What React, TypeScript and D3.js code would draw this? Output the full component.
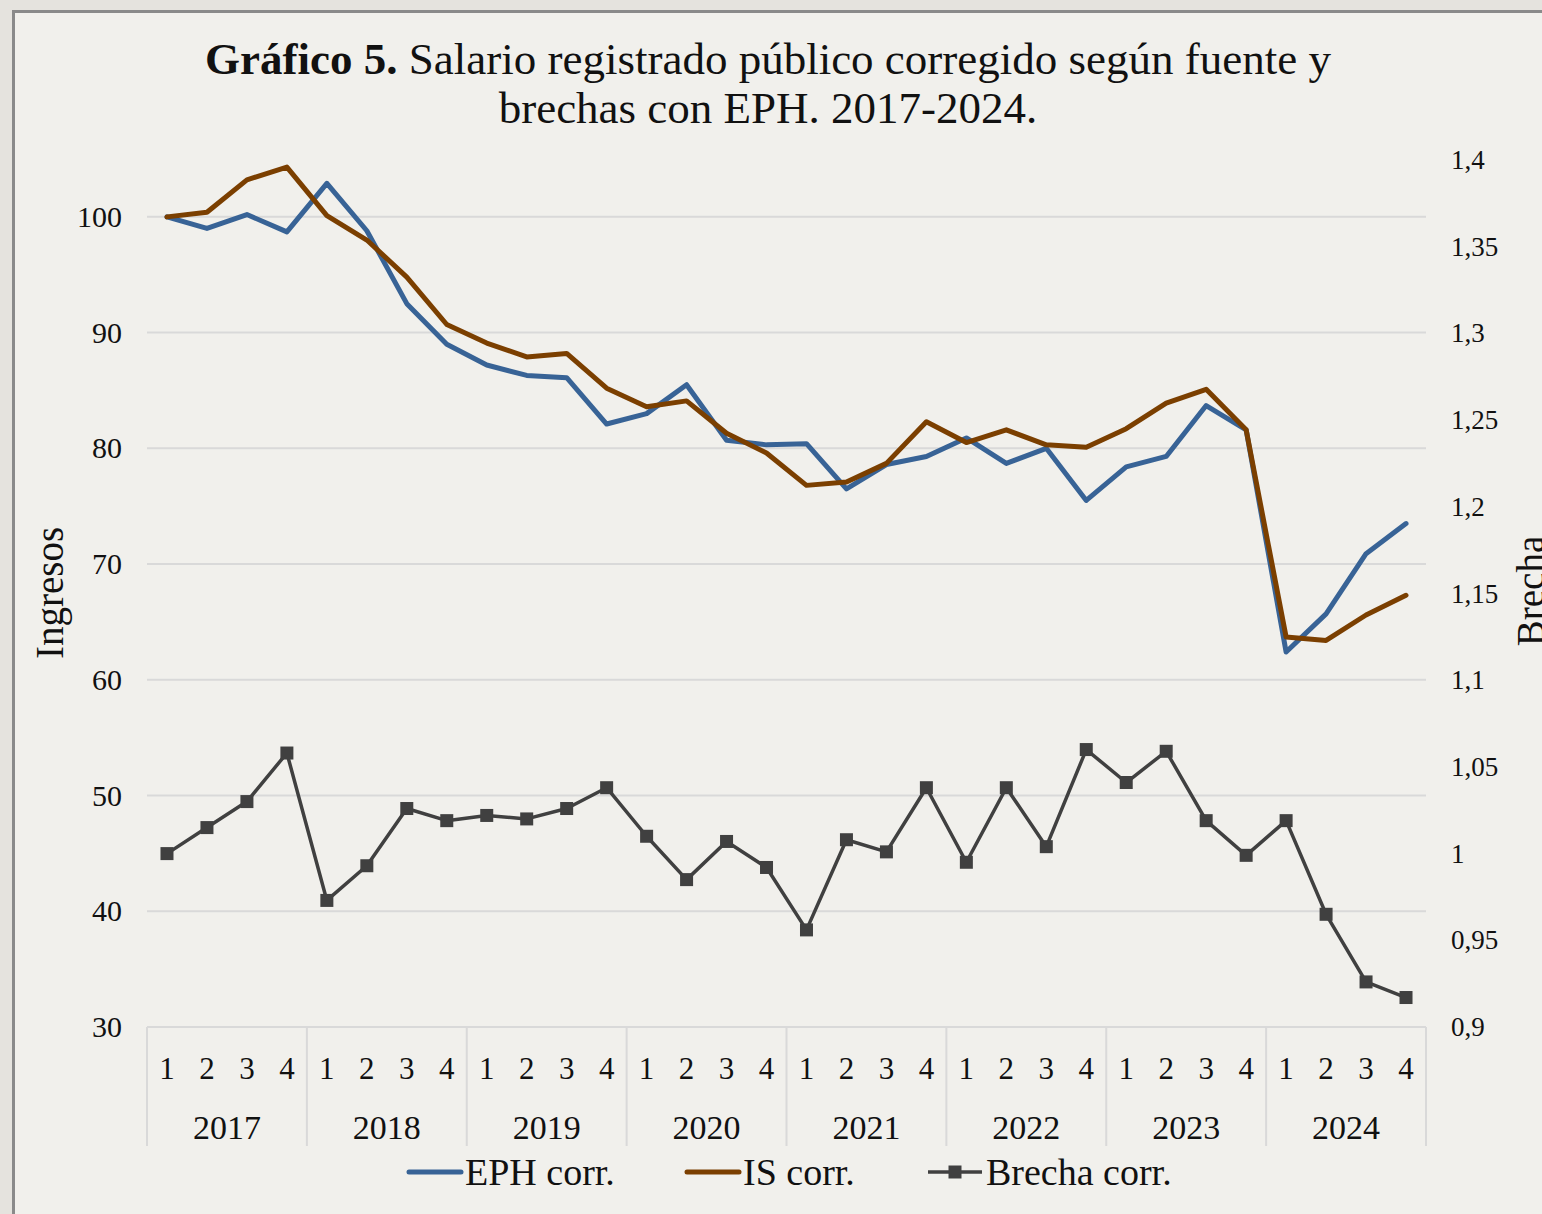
import React from "react";
import * as d3 from "d3";

const years = ["2017", "2018", "2019", "2020", "2021", "2022", "2023", "2024"];
const quarters = ["1", "2", "3", "4"];
const ephCorr = [100, 99.0, 100.2, 98.7, 102.9, 98.8, 92.5, 89.0, 87.2, 86.3, 86.1, 82.1, 83.0, 85.5, 80.7, 80.3, 80.4, 76.5, 78.6, 79.3, 80.9, 78.7, 80.0, 75.5, 78.4, 79.3, 83.7, 81.6, 62.4, 65.7, 70.9, 73.5];
const isCorr = [100, 100.4, 103.2, 104.3, 100.1, 98.0, 94.8, 90.7, 89.1, 87.9, 88.2, 85.2, 83.6, 84.1, 81.3, 79.6, 76.8, 77.1, 78.7, 82.3, 80.5, 81.6, 80.3, 80.1, 81.7, 83.9, 85.1, 81.6, 63.7, 63.4, 65.6, 67.3];
const brechaCorr = [1.0, 1.015, 1.030, 1.058, 0.973, 0.993, 1.026, 1.019, 1.022, 1.020, 1.026, 1.038, 1.010, 0.985, 1.007, 0.992, 0.956, 1.008, 1.001, 1.038, 0.995, 1.038, 1.004, 1.060, 1.041, 1.059, 1.019, 0.999, 1.019, 0.965, 0.926, 0.917];
const leftTicks = [30, 40, 50, 60, 70, 80, 90, 100];
const rightTicks = [0.9, 0.95, 1, 1.05, 1.1, 1.15, 1.2, 1.25, 1.3, 1.35, 1.4];

const FONT = "'Liberation Serif', 'DejaVu Serif', serif";

export default function App() {
  const W = 1542, H = 1214;
  const left = 147, right = 1426, top = 159, bottom = 1027;
  const cats = years.flatMap((y) => quarters.map((q) => `${y}-${q}`));
  const x = d3.scaleBand<string>().domain(cats).range([left, right]).padding(0);
  const cx = (i: number) => (x(cats[i]) as number) + x.bandwidth() / 2;
  const yL = d3.scaleLinear().domain([30, 105]).range([bottom, top]);
  const yR = d3.scaleLinear().domain([0.9, 1.4]).range([bottom, 160]);

  const lineL = d3.line<number>().x((_, i) => cx(i)).y((d) => yL(d));
  const lineR = d3.line<number>().x((_, i) => cx(i)).y((d) => yR(d));

  const blue = "#386396";
  const brown = "#7B3F00";
  const dark = "#404040";
  const grid = "#D9D9D9";
  const yearW = x.bandwidth() * 4;
  const axisBottom = 1146;

  const fmt = (v: number) => String(v).replace(".", ",");

  return (
    <svg width={W} height={H} style={{ position: "absolute", left: 0, top: 0 }} fontFamily={FONT}>
      <rect x={0} y={0} width={W} height={H} fill="#E5E3DE" />
      <rect x={13.5} y={11.5} width={W + 20} height={H + 20} fill="#F1F0EC" stroke="#8A8A8A" strokeWidth={3} />

      <text x={768} y={74} textAnchor="middle" fontSize={45} fill="#111">
        <tspan fontWeight="bold">Gráfico 5.</tspan> Salario registrado público corregido según fuente y
      </text>
      <text x={768} y={123} textAnchor="middle" fontSize={45} fill="#111">brechas con EPH. 2017-2024.</text>

      {leftTicks.slice(1).map((t) => (
        <line key={t} x1={left} x2={right} y1={yL(t)} y2={yL(t)} stroke={grid} strokeWidth={2} />
      ))}
      <line x1={left} x2={right} y1={bottom} y2={bottom} stroke={grid} strokeWidth={2} />
      {d3.range(years.length + 1).map((k) => (
        <line key={k} x1={left + k * yearW} x2={left + k * yearW} y1={bottom} y2={axisBottom} stroke={grid} strokeWidth={2} />
      ))}

      {leftTicks.map((t) => (
        <text key={t} x={122} y={yL(t) + 10} textAnchor="end" fontSize={30} fill="#111">{t}</text>
      ))}
      {rightTicks.map((t) => (
        <text key={t} x={1451} y={yR(t) + 9} textAnchor="start" fontSize={27} fill="#111">{fmt(t)}</text>
      ))}

      {cats.map((c, i) => (
        <text key={c} x={cx(i)} y={1079} textAnchor="middle" fontSize={31} fill="#111">{quarters[i % 4]}</text>
      ))}
      {years.map((yv, k) => (
        <text key={yv} x={left + k * yearW + yearW / 2} y={1139} textAnchor="middle" fontSize={34} fill="#111">{yv}</text>
      ))}

      <text transform="translate(63,593) rotate(-90)" textAnchor="middle" fontSize={39} fill="#111">Ingresos</text>
      <text transform="translate(1544,591) rotate(-90)" textAnchor="middle" fontSize={39} fill="#111">Brecha</text>

      <path d={lineL(ephCorr) as string} fill="none" stroke={blue} strokeWidth={5} strokeLinejoin="round" strokeLinecap="round" />
      <path d={lineL(isCorr) as string} fill="none" stroke={brown} strokeWidth={5} strokeLinejoin="round" strokeLinecap="round" />
      <path d={lineR(brechaCorr) as string} fill="none" stroke={dark} strokeWidth={3.5} strokeLinejoin="round" />
      {brechaCorr.map((d, i) => (
        <rect key={i} x={cx(i) - 6.5} y={yR(d) - 6.5} width={13} height={13} fill={dark} />
      ))}

      <g fontSize={38} fill="#111">
        <line x1={409} x2={461} y1={1172} y2={1172} stroke={blue} strokeWidth={5} strokeLinecap="round" />
        <text x={465} y={1185}>EPH corr.</text>
        <line x1={687} x2={739} y1={1172} y2={1172} stroke={brown} strokeWidth={5} strokeLinecap="round" />
        <text x={743} y={1185}>IS corr.</text>
        <line x1={928} x2={982} y1={1172} y2={1172} stroke={dark} strokeWidth={3.5} />
        <rect x={948.5} y={1165.5} width={13} height={13} fill={dark} />
        <text x={986} y={1185}>Brecha corr.</text>
      </g>
    </svg>
  );
}
